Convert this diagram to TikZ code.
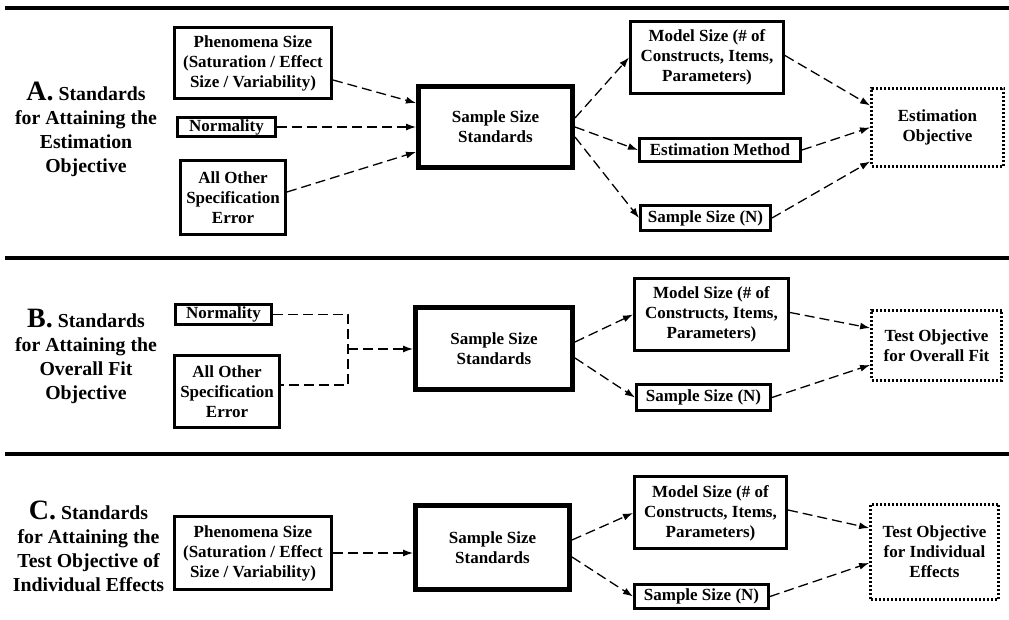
\documentclass[tikz,border=0pt]{standalone}
\usepackage{fontspec}
\setmainfont{Liberation Serif}
\usetikzlibrary{arrows.meta}
\newcommand{\boxfont}{\fontsize{8.5}{10}\selectfont\bfseries}
\newcommand{\headfont}{\fontsize{9.9}{12}\selectfont\bfseries}
\newcommand{\bigletter}[1]{{\fontsize{14}{14}\selectfont #1}}
\tikzset{
  box/.style={draw, line width=1.5pt, align=center, inner sep=1pt, font=\boxfont},
  hub/.style={box, line width=2.5pt},
  goal/.style={box, line width=1.4pt, dash pattern=on 1pt off 1pt},
  head/.style={align=center, font=\headfont},
  link/.style={line width=0.65pt, dash pattern=on 5pt off 2.5pt},
  arr/.style={link, -{Latex[length=5pt,width=3.5pt]}},
  rule/.style={line width=1.6pt}
}
\begin{document}
\begin{tikzpicture}[x=0.5pt,y=-0.5pt]
\useasboundingbox (0,0) rectangle (1009,620);
\draw [rule] (5,8) -- (1009,8);
\draw [rule] (5,258) -- (1009,258);
\draw [rule] (5,454) -- (1009,454);

\node [head] (titleA) at (86,129) {\bigletter{A.} Standards\\for Attaining the\\Estimation\\Objective};
\node [box, minimum width=78.5pt, minimum height=35.5pt] (phenA) at (253,63) {Phenomena Size\\(Saturation / Effect\\Size / Variability)};
\node [box, minimum width=49pt, minimum height=9pt] (normA) at (226.5,127) {Normality};
\node [box, minimum width=52.5pt, minimum height=37pt] (otherA) at (233,197.5) {All Other\\Specification\\Error};
\node [hub, minimum width=77pt, minimum height=40.5pt] (hubA) at (495.5,127) {Sample Size\\Standards};
\node [box, minimum width=76.5pt, minimum height=36pt] (modelA) at (707,57.5) {Model Size (\# of\\Constructs, Items,\\Parameters)};
\node [box, minimum width=80.5pt, minimum height=11.5pt] (methodA) at (720,150) {Estimation Method};
\node [box, minimum width=65pt, minimum height=12.5pt] (sizeA) at (705.5,218) {Sample Size (N)};
\node [goal, minimum width=66pt, minimum height=39pt] (goalA) at (937.5,127.5) {Estimation\\Objective};
\draw [arr] ([yshift=-8.5pt]phenA.east) -- ([yshift=12pt]hubA.west);
\draw [arr] (normA.east) -- (normA.east -| hubA.west);
\draw [arr] ([yshift=2.75pt]otherA.east) -- ([yshift=-12.5pt]hubA.west);
\draw [arr] ([yshift=4.5pt]hubA.east) -- (modelA.west);
\draw [arr] (hubA.east) -- (methodA.west);
\draw [arr] ([yshift=-5pt]hubA.east) -- (sizeA.west);
\draw [arr] ([yshift=1pt]modelA.east) -- ([yshift=11pt]goalA.west);
\draw [arr] (methodA.east) -- (goalA.west);
\draw [arr] (sizeA.east) -- ([yshift=-17pt]goalA.west);

\node [head] (titleB) at (86,356) {\bigletter{B.} Standards\\for Attaining the\\Overall Fit\\Objective};
\node [box, minimum width=48pt, minimum height=10pt] (normB) at (223.5,314.5) {Normality};
\node [box, minimum width=52.5pt, minimum height=36pt] (otherB) at (227,391.5) {All Other\\Specification\\Error};
\node [hub, minimum width=78.5pt, minimum height=41pt] (hubB) at (494,348.5) {Sample Size\\Standards};
\node [box, minimum width=77pt, minimum height=36pt] (modelB) at (711.5,314.5) {Model Size (\# of\\Constructs, Items,\\Parameters)};
\node [box, minimum width=67pt, minimum height=13pt] (sizeB) at (703.5,397.5) {Sample Size (N)};
\node [goal, minimum width=65pt, minimum height=35pt] (goalB) at (936.5,345.5) {Test Objective\\for Overall Fit};
\coordinate (jB) at (348,349);
\draw [link] (normB.east) -| (jB) |- ([yshift=3.25pt]otherB.east);
\draw [arr] (jB) -- (jB -| hubB.west);
\draw [arr] ([yshift=3.25pt]hubB.east) -- (modelB.west);
\draw [arr] ([yshift=-4.75pt]hubB.east) -- (sizeB.west);
\draw [arr] ([yshift=1pt]modelB.east) -- ([yshift=8.75pt]goalB.west);
\draw [arr] (sizeB.east) -- ([yshift=-9.75pt]goalB.west);

\node [head] (titleC) at (88.5,546) {\bigletter{C.} Standards\\for Attaining the\\Test Objective of\\Individual Effects};
\node [box, minimum width=78.5pt, minimum height=36.5pt] (phenC) at (253,553) {Phenomena Size\\(Saturation / Effect\\Size / Variability)};
\node [hub, minimum width=77pt, minimum height=42pt] (hubC) at (492.5,547.5) {Sample Size\\Standards};
\node [box, minimum width=76pt, minimum height=36pt] (modelC) at (710.5,513) {Model Size (\# of\\Constructs, Items,\\Parameters)};
\node [box, minimum width=67pt, minimum height=12pt] (sizeC) at (701.5,596.5) {Sample Size (N)};
\node [goal, minimum width=64pt, minimum height=47.5pt] (goalC) at (934.5,552) {Test Objective\\for Individual\\Effects};
\draw [arr] (phenC.east) -- (phenC.east -| hubC.west);
\draw [arr] ([yshift=3.75pt]hubC.east) -- (modelC.west);
\draw [arr] ([yshift=-4.75pt]hubC.east) -- (sizeC.west);
\draw [arr] ([yshift=1.5pt]modelC.east) -- ([yshift=12pt]goalC.west);
\draw [arr] (sizeC.east) -- ([yshift=-5.5pt]goalC.west);
\end{tikzpicture}
\end{document}
